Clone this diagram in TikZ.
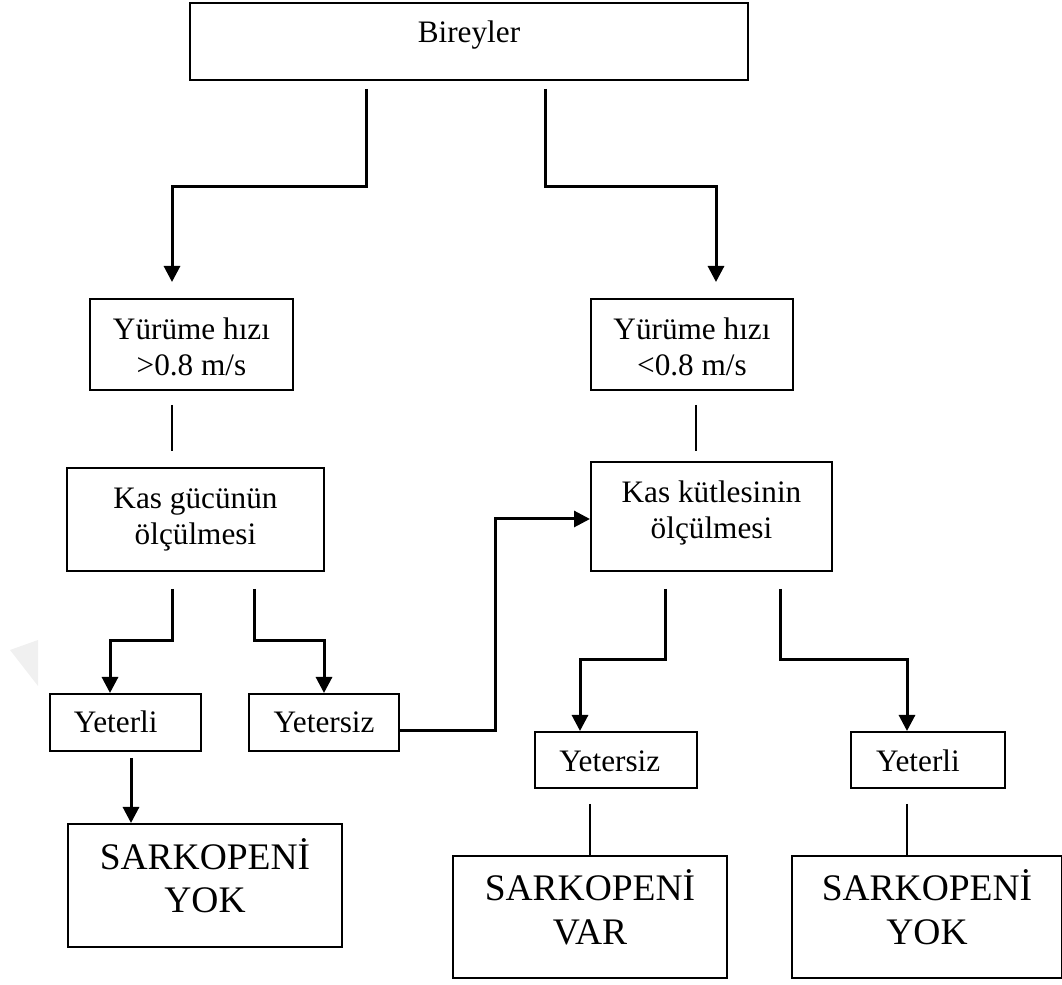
\documentclass[tikz,border=0pt]{standalone}
\usepackage{fontspec}
\setmainfont{Liberation Serif}
\usetikzlibrary{arrows.meta}

\tikzset{
	box/.style={draw,line width=0.8pt,inner sep=0pt,align=center,font={\fontsize{12.5}{14.5}\selectfont}},
	bigbox/.style={box,font={\fontsize{15}{17.5}\selectfont}},
	arr/.style={line width=1.2pt,-{Triangle[length=6.4pt,width=6.4pt]}},
	ln/.style={line width=0.5pt}
}

\begin{document}
\begin{tikzpicture}[x=0.4pt,y=-0.4pt]
	\useasboundingbox (0,0) rectangle (1062,985);
	\fill [black!6] (10,650) -- (38,640) -- (38,686) -- cycle;
	
	\node (bir) [box,minimum width=223.2pt,text height=16pt,text depth=14.8pt] at (469,41.5) {Bireyler};
	\node (yl) [box,minimum width=81.2pt,text height=30.8pt,text depth=5.6pt] at (191.5,344.5) {Yürüme hızı\\>0.8 m/s};
	\node (yr) [box,minimum width=80.8pt,text height=30.8pt,text depth=5.6pt] at (692,344.5) {Yürüme hızı\\<0.8 m/s};
	\node (kg) [box,minimum width=102.8pt,text height=30.8pt,text depth=10.4pt] at (195.5,519.5) {Kas gücünün\\ölçülmesi};
	\node (kk) [box,minimum width=96.4pt,text height=30.8pt,text depth=12.8pt] at (711.5,516.5) {Kas kütlesinin\\ölçülmesi};
	\node (yel) [box,minimum width=60.2pt,text height=15.6pt,text depth=7.2pt] at (125.75,722.5) {Yeterli\hspace*{8pt}};
	\node (ysl) [box,minimum width=60pt,text height=15.6pt,text depth=7.2pt] at (324,722.5) {Yetersiz};
	\node (ysr) [box,minimum width=64.8pt,text height=16pt,text depth=6.4pt] at (616,760) {Yetersiz\hspace*{5pt}};
	\node (yer) [box,minimum width=61.6pt,text height=16pt,text depth=6.4pt] at (928,760) {Yeterli\hspace*{8pt}};
	\node (skl) [bigbox,minimum width=109.6pt,text height=35.6pt,text depth=13.6pt] at (205,885.5) {SARKOPENİ\\YOK};
	\node (skv) [bigbox,minimum width=109.6pt,text height=35.2pt,text depth=13.6pt] at (590,917) {SARKOPENİ\\VAR};
	\node (skr) [bigbox,minimum width=108pt,text height=35.2pt,text depth=13.6pt] at (927,917) {SARKOPENİ\\YOK};
	
	\coordinate (a1) at (366,187);
	\coordinate (a2) at (172,187);
	\coordinate (b1) at (545,187);
	\coordinate (b2) at (716,187);
	\coordinate (d1) at (696,430);
	\coordinate (e1) at (172,641);
	\coordinate (e2) at (110,641);
	\coordinate (f1) at (254,641);
	\coordinate (g1) at (495.6,731);
	\coordinate (g2) at (495.6,519);
	\coordinate (h1) at (131,790);
	\coordinate (i1) at (665,660);
	\coordinate (i2) at (580,660);
	\coordinate (j1) at (780,660);
	\coordinate (j2) at (907,660);
	
	\draw [arr,shorten <=3.2pt,shorten >=6.4pt] (bir.south -| a1) -- (a1) -- (a2) -- (yl.north -| a2);
	\draw [arr,shorten <=3.2pt,shorten >=6.4pt] (bir.south -| b1) -- (b1) -- (b2) -- (yr.north -| b2);
	\draw [ln,shorten <=5.6pt,shorten >=6.4pt] (yl.south -| a2) -- (kg.north -| a2);
	\draw [ln,shorten <=5.6pt,shorten >=4pt] (yr.south -| d1) -- (kk.north -| d1);
	\draw [arr,shorten <=6.8pt] (kg.south -| e1) -- (e1) -- (e2) -- (yel.north -| e2);
	\draw [arr,shorten <=6.8pt] (kg.south -| f1) -- (f1) -| (ysl.north);
	\draw [arr] (ysl.east |- g1) -- (g1) -- (g2) -- (kk.west |- g2);
	\draw [arr,shorten <=2.4pt] (yel.south -| h1) -- (skl.north -| h1);
	\draw [arr,shorten <=6.8pt] (kk.south -| i1) -- (i1) -- (i2) -- (ysr.north -| i2);
	\draw [arr,shorten <=6.8pt] (kk.south -| j1) -- (j1) -- (j2) -- (yer.north -| j2);
	\draw [ln,shorten <=6pt] (ysr.south -| skv.north) -- (skv.north);
	\draw [ln,shorten <=6pt] (yer.south -| j2) -- (skr.north -| j2);
\end{tikzpicture}
\end{document}
